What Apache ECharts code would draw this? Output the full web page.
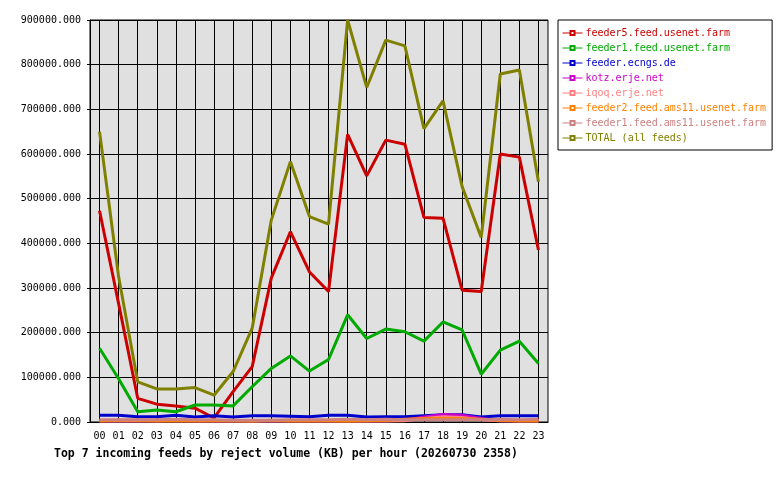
<!DOCTYPE html>
<html>
<head>
<meta charset="utf-8">
<script src="https://cdn.jsdelivr.net/npm/echarts@6/dist/echarts.min.js"></script>
<style>
  html, body { margin: 0; padding: 0; background: #ffffff; }
  #main { width: 780px; height: 480px; }
</style>
</head>
<body>
<div id="main"></div>
<script>
// hours on the x axis
const hours = ['00','01','02','03','04','05','06','07','08','09','10','11',
               '12','13','14','15','16','17','18','19','20','21','22','23'];

// reject volume in KB per hour
const feeder5 = [473000, 265000, 53000, 40000, 36000, 31000, 9000, 68000, 124000, 322000, 426000, 336000,
                 292000, 644000, 551000, 631000, 622000, 458000, 456000, 295000, 292000, 600000, 593000, 385000];
const feeder1 = [165000, 97000, 23000, 27000, 23000, 38000, 38000, 36000, 79000, 120000, 148000, 114000,
                 140000, 240000, 187000, 208000, 202000, 181000, 224000, 206000, 107000, 161000, 181000, 131000];
const ecngs = [15000, 15000, 12000, 12000, 15000, 11000, 14000, 11000, 14000, 14000, 13000, 12000,
               15000, 15000, 11000, 12000, 12000, 14000, 16000, 16000, 11000, 14000, 14000, 14000];
const kotz = [3000, 3000, 3000, 3000, 4000, 3000, 3000, 3000, 3000, 3000, 3000, 3000,
              3000, 3000, 3000, 3000, 4000, 11000, 17000, 15000, 8000, 3000, 3000, 3000];
const iqoq = [2000, 2000, 2000, 2000, 2000, 2000, 2000, 2000, 2000, 2000, 2000, 2000,
              2000, 2000, 2000, 2000, 3000, 8000, 12000, 10000, 5000, 3000, 2000, 2000];
const feeder2ams = [3000, 4000, 4000, 3000, 3000, 3000, 3000, 3000, 2000, 4000, 3000, 3000,
                    3000, 2000, 3000, 4000, 6000, 8000, 8000, 7000, 6000, 4000, 3000, 3000];
const feeder1ams = [5000, 5000, 5000, 5000, 6000, 5000, 5000, 4000, 4000, 4000, 5000, 5000,
                    5000, 6000, 5000, 6000, 5000, 5000, 5000, 5000, 5000, 6000, 5000, 6000];
const total = [650000, 325000, 90000, 74000, 74000, 77000, 60000, 113000, 210000, 452000, 583000, 460000,
               443000, 900000, 749000, 855000, 842000, 657000, 719000, 527000, 413000, 779000, 788000, 538000];

const yTicks = { min: 0, max: 900000, step: 100000 };

const feeds = [
  { name: 'feeder5.feed.usenet.farm', color: '#cc0000', data: feeder5 },
  { name: 'feeder1.feed.usenet.farm', color: '#00aa00', data: feeder1 },
  { name: 'feeder.ecngs.de', color: '#0000cc', data: ecngs },
  { name: 'kotz.erje.net', color: '#cc00cc', data: kotz },
  { name: 'iqoq.erje.net', color: '#ff8080', data: iqoq },
  { name: 'feeder2.feed.ams11.usenet.farm', color: '#ff8000', data: feeder2ams },
  { name: 'feeder1.feed.ams11.usenet.farm', color: '#cc8080', data: feeder1ams },
  { name: 'TOTAL (all feeds)', color: '#808000', data: total }
];

const mono = 'DejaVu Sans Mono';

const myChart = echarts.init(document.getElementById('main'));

const option = {
  animation: false,
  backgroundColor: '#ffffff',
  textStyle: { fontFamily: mono },
  title: {
    text: 'Top 7 incoming feeds by reject volume (KB) per hour (20260730 2358)',
    left: 49,
    top: 443,
    textStyle: { fontFamily: mono, fontSize: 11.5, fontWeight: 'bold', color: '#000000' }
  },
  legend: {
    orient: 'vertical',
    left: 558,
    top: 20,
    padding: [8, 6, 7, 4],
    borderColor: '#000000',
    borderWidth: 1,
    itemWidth: 20,
    itemHeight: 5,
    itemGap: 5,
    lineStyle: { width: 1 },
    itemStyle: { borderWidth: 1 },
    textStyle: { fontFamily: mono, fontSize: 10, padding: [0, 0, 0, -2], lineHeight: 10 },
    data: feeds.map(f => ({ name: f.name, textStyle: { color: f.color } }))
  },
  grid: {
    left: 90,
    top: 20,
    right: 232,
    bottom: 58,
    show: true,
    backgroundColor: '#e0e0e0',
    borderColor: '#000000',
    borderWidth: 1
  },
  xAxis: {
    type: 'category',
    data: hours,
    boundaryGap: true,
    axisLine: { lineStyle: { color: '#000000', width: 1 } },
    axisTick: { alignWithLabel: true, length: 3, lineStyle: { color: '#000000' } },
    axisLabel: { color: '#000000', fontFamily: mono, fontSize: 10, margin: 9, interval: 0 },
    splitLine: { show: true, alignWithLabel: true, lineStyle: { color: '#000000', width: 1 } }
  },
  yAxis: {
    type: 'value',
    min: yTicks.min,
    max: yTicks.max,
    interval: yTicks.step,
    axisLine: { show: true, lineStyle: { color: '#000000', width: 1 } },
    axisTick: { show: true, length: 3, lineStyle: { color: '#000000' } },
    axisLabel: {
      color: '#000000',
      fontFamily: mono,
      fontSize: 10,
      margin: 9,
      formatter: v => v.toFixed(3)
    },
    splitLine: { show: true, lineStyle: { color: '#000000', width: 1 } }
  },
  series: feeds.map(f => ({
    name: f.name,
    type: 'line',
    data: f.data,
    color: f.color,
    symbol: 'emptyRect',
    symbolSize: 4,
    showSymbol: false,
    lineStyle: { width: 3, color: f.color },
    emphasis: { disabled: true }
  }))
};

myChart.setOption(option);
</script>
</body>
</html>
